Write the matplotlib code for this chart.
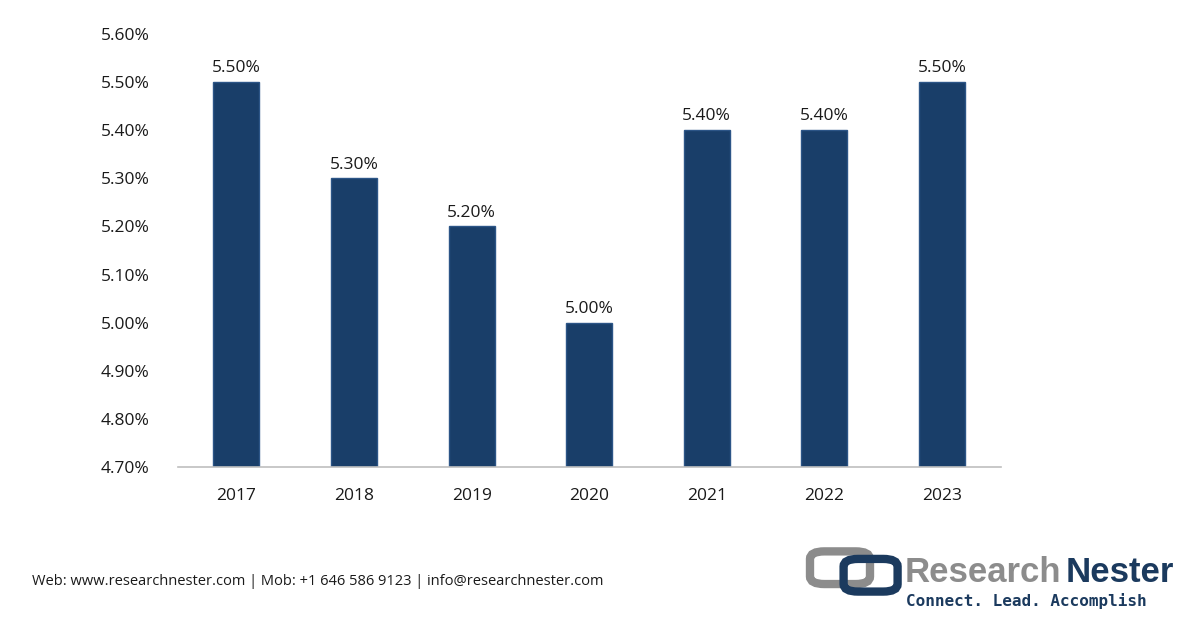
import matplotlib
matplotlib.use('Agg')
import matplotlib.pyplot as plt
from matplotlib.patches import FancyBboxPatch

years = ['2017', '2018', '2019', '2020', '2021', '2022', '2023']
values = [5.50, 5.30, 5.20, 5.00, 5.40, 5.40, 5.50]
y_ticks = [4.70, 4.80, 4.90, 5.00, 5.10, 5.20, 5.30, 5.40, 5.50, 5.60]

bar_color = '#193e69'
text_color = '#1a1a1a'
plt.rcParams['font.family'] = ['Open Sans', 'DejaVu Sans']

fig = plt.figure(figsize=(12, 6.28), dpi=100)
ax = fig.add_axes([0.148, 0.256, 0.686, 0.69])

x = range(len(years))
ax.bar(x, [v - 4.70 for v in values], bottom=4.70, width=0.39,
       color=bar_color, edgecolor='#2c5587', linewidth=1)
for xi, v in zip(x, values):
    ax.text(xi, v + 0.012, f'{v:.2f}%', ha='center', va='bottom',
            fontsize=12.5, color=text_color)

ax.set_ylim(4.70, 5.60)
ax.set_xlim(-0.5, len(years) - 0.5)
ax.set_yticks(y_ticks)
ax.set_yticklabels([f'{t:.2f}%' for t in y_ticks], fontsize=12.5, color=text_color)
ax.set_xticks(list(x))
ax.set_xticklabels(years, fontsize=12.5, color=text_color)
ax.tick_params(axis='x', length=0, pad=15)
ax.tick_params(axis='y', length=0, pad=20)
for s in ['top', 'right', 'left']:
    ax.spines[s].set_visible(False)
ax.spines['bottom'].set_color('#bfbfbf')
ax.spines['bottom'].set_linewidth(1.2)

# footer
fig.text(0.027, 0.074, 'Web: www.researchnester.com | Mob: +1 646 586 9123 | info@researchnester.com',
         fontsize=10.5, color=text_color, va='center')

# logo
fig.patches.append(FancyBboxPatch((0.675, 0.07), 0.05, 0.052,
                                  boxstyle='round,pad=0,rounding_size=0.012',
                                  fill=False, edgecolor='#8c8c8c', linewidth=6,
                                  transform=fig.transFigure))
fig.patches.append(FancyBboxPatch((0.703, 0.058), 0.045, 0.052,
                                  boxstyle='round,pad=0,rounding_size=0.012',
                                  fill=False, edgecolor='#1b3a5e', linewidth=6,
                                  transform=fig.transFigure))
logo_font = ['Liberation Sans Narrow', 'Liberation Sans', 'DejaVu Sans']
fig.text(0.754, 0.088, 'Research', fontsize=25, color='#8c8c8c', weight='bold',
         va='center', family=logo_font)
fig.text(0.888, 0.088, 'Nester', fontsize=25, color='#1b3a5e', weight='bold',
         va='center', family=logo_font)
fig.text(0.755, 0.043, 'Connect. Lead. Accomplish', fontsize=11.5, color='#1b3a5e',
         weight='bold', va='center', family=['DejaVu Sans Mono', 'DejaVu Sans'])

fig.savefig('out.png', dpi=100)
